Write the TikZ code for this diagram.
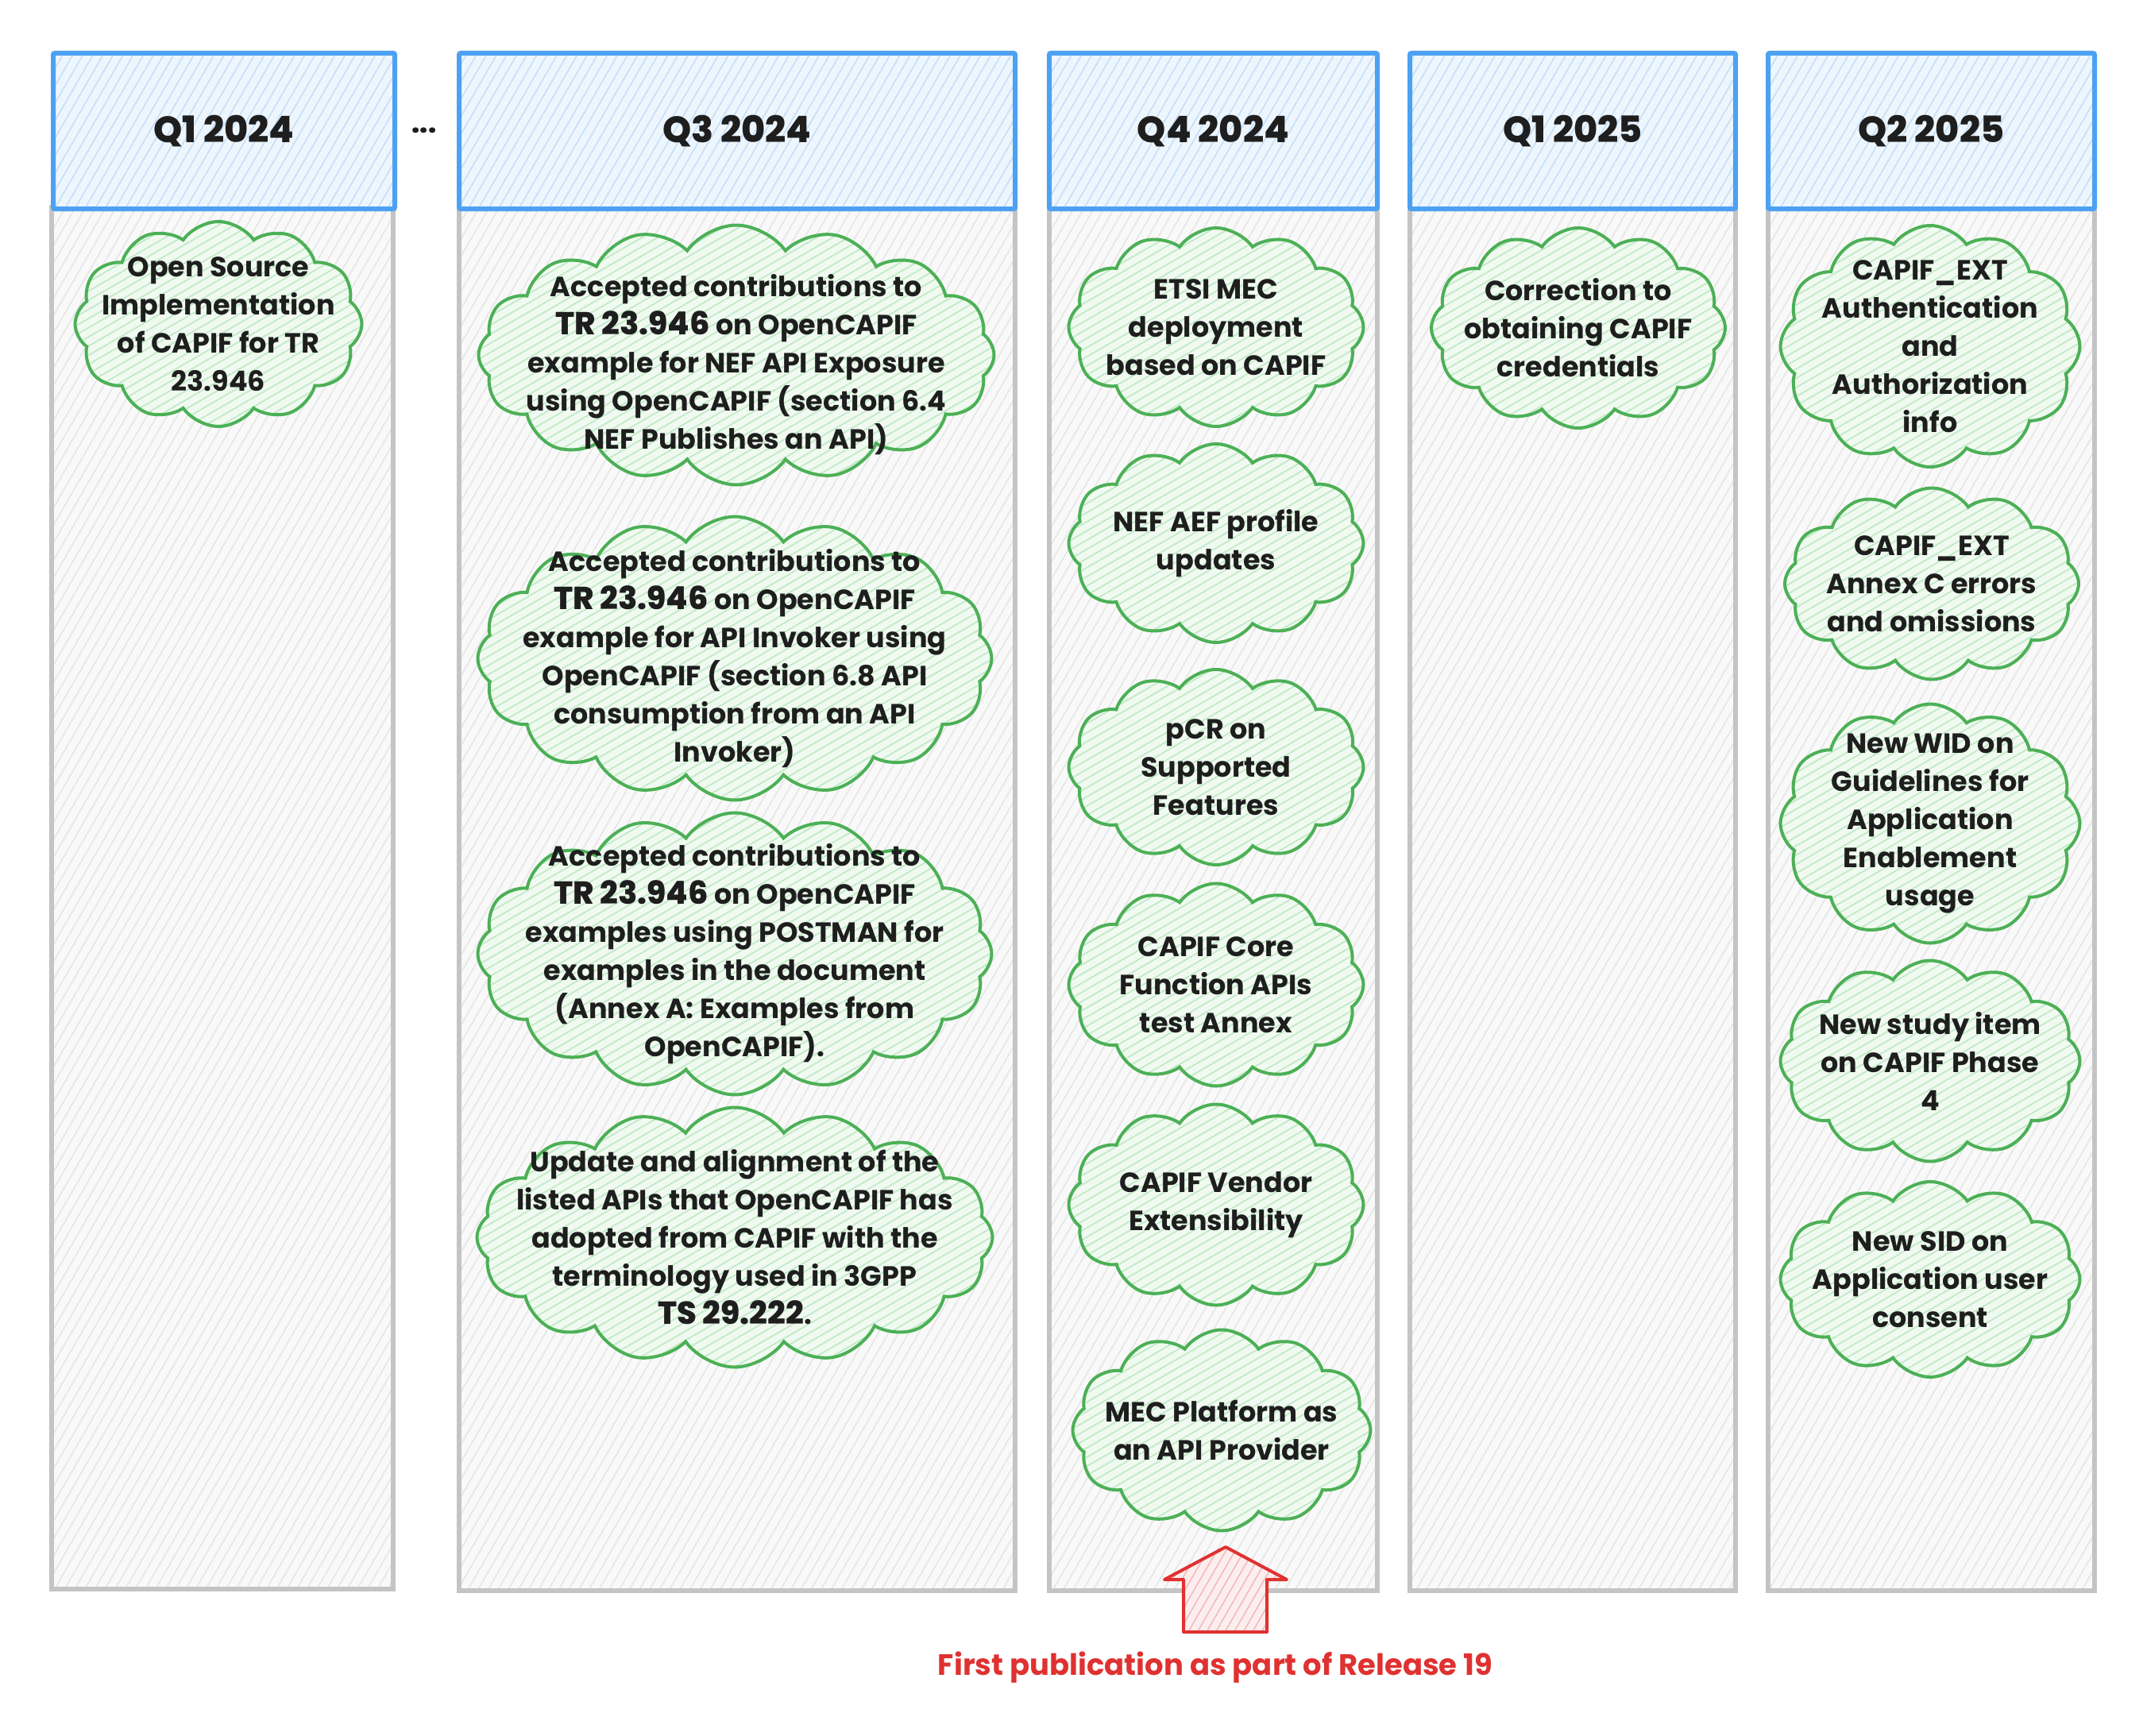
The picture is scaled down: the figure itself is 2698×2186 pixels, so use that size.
\documentclass[tikz,border=0pt]{standalone}
\usepackage{fontspec}
\setmainfont{Poppins}[UprightFont=* Bold, BoldFont=* ExtraBold]
\usetikzlibrary{shapes.symbols,patterns.meta,positioning}

\definecolor{ink}{RGB}{30,30,30}
\definecolor{headblue}{RGB}{77,161,242}
\definecolor{headfill}{RGB}{238,246,253}
\definecolor{headhatch}{RGB}{196,223,250}
\definecolor{lanegray}{RGB}{196,196,196}
\definecolor{lanefill}{RGB}{249,249,249}
\definecolor{lanehatch}{RGB}{230,230,230}
\definecolor{puffgreen}{RGB}{76,176,86}
\definecolor{pufffill}{RGB}{240,250,240}
\definecolor{puffhatch}{RGB}{190,232,196}
\definecolor{relred}{RGB}{224,49,49}
\definecolor{relfill}{RGB}{252,238,238}
\definecolor{relhatch}{RGB}{245,186,186}

\newcommand{\docref}[1]{{\bfseries\fontsize{40}{48}\selectfont #1}}

\begin{document}
\begin{tikzpicture}[x=1pt,y=-1pt,
    lane/.style={draw=lanegray, line width=6pt, preaction={fill=lanefill},
      pattern={Lines[angle=60,distance=11pt,line width=1.6pt]}, pattern color=lanehatch},
    quarter/.style={draw=headblue, line width=6pt, rounded corners=2pt, preaction={fill=headfill},
      pattern={Lines[angle=60,distance=11pt,line width=1.6pt]}, pattern color=headhatch,
      font=\fontsize{46}{50}\bfseries, text=ink},
    puff/.style={cloud, cloud puffs=12, cloud puff arc=110, cloud ignores aspect, inner sep=0pt,
      draw=puffgreen, line width=4pt, preaction={fill=pufffill},
      pattern={Lines[angle=30,distance=10pt,line width=1.6pt]}, pattern color=puffhatch},
    note/.style={align=center, font=\fontsize{35}{48}\selectfont, text=ink}]
\useasboundingbox (0,0) rectangle (2698,2186);
% lanes with quarter headers
\foreach \n/\xa/\xb/\lbl in {qa/64/494/Q1 2024, qc/575/1275/Q3 2024, qd/1318/1731/Q4 2024,
    qe/1772/2182/Q1 2025, qf/2223/2634/Q2 2025}{
  \node[lane, minimum width=\xb-\xa, minimum height=1740, anchor=north west] (\n-lane) at (\xa,260) {};
  \node[quarter, minimum width=\xb-\xa, minimum height=196, anchor=north west] (\n) at (\xa,64) {\lbl};
}
\node[font=\fontsize{34}{40}\bfseries, text=ink] (skip) at (534,164) {...};

% Q1 2024
\node[puff, minimum width=361, minimum height=258] (qa1) at (275,408) {};
\node[note] (qa1-t) at (qa1) {Open Source\\Implementation\\of CAPIF for TR\\23.946};

% Q3 2024
\node[puff, cloud puffs=16, minimum width=649, minimum height=327] (qc1) at (927,447) {};
\node[note] (qc1-t) at ([yshift=-12pt]qc1) {Accepted contributions to\\\docref{TR 23.946} on OpenCAPIF\\example for NEF API Exposure\\using OpenCAPIF (section 6.4\\NEF Publishes an API)};
\node[puff, cloud puffs=16, minimum width=647, minimum height=357] (qc2) at (925,829) {};
\node[note] (qc2-t) at (qc2) {Accepted contributions to\\\docref{TR 23.946} on OpenCAPIF\\example for API Invoker using\\OpenCAPIF (section 6.8 API\\consumption from an API\\Invoker)};
\node[puff, cloud puffs=16, minimum width=647, minimum height=355] (qc3) at (925,1201) {};
\node[note] (qc3-t) at (qc3) {Accepted contributions to\\\docref{TR 23.946} on OpenCAPIF\\examples using POSTMAN for\\examples in the document\\(Annex A: Examples from\\OpenCAPIF).};
\node[puff, cloud puffs=16, minimum width=649, minimum height=327] (qc4) at (925,1558) {};
\node[note] (qc4-t) at (qc4) {Update and alignment of the\\listed APIs that OpenCAPIF has\\adopted from CAPIF with the\\terminology used in 3GPP\\\docref{TS 29.222}.};

% Q4 2024
\node[puff, minimum width=371, minimum height=250] (qd1) at (1531,412) {};
\node[note] (qd1-t) at (qd1) {ETSI MEC\\deployment\\based on CAPIF};
\node[puff, minimum width=371, minimum height=250] (qd2) at (1531,684) {};
\node[note] (qd2-t) at (qd2) {NEF AEF profile\\updates};
\node[puff, minimum width=371, minimum height=246] (qd3) at (1531,966) {};
\node[note] (qd3-t) at (qd3) {pCR on\\Supported\\Features};
\node[puff, minimum width=371, minimum height=255] (qd4) at (1531,1240) {};
\node[note] (qd4-t) at (qd4) {CAPIF Core\\Function APIs\\test Annex};
\node[puff, minimum width=371, minimum height=253] (qd5) at (1531,1517) {};
\node[note] (qd5-t) at (qd5) {CAPIF Vendor\\Extensibility};
\node[puff, minimum width=375, minimum height=253] (qd6) at (1538,1801) {};
\node[note] (qd6-t) at (qd6) {MEC Platform as\\an API Provider};

% Q1 2025
\node[puff, minimum width=370, minimum height=252] (qe1) at (1987,413) {};
\node[note] (qe1-t) at (qe1) {Correction to\\obtaining CAPIF\\credentials};

% Q2 2025
\node[puff, minimum width=377, minimum height=304] (qf1) at (2430,436) {};
\node[note] (qf1-t) at (qf1) {CAPIF\_EXT\\Authentication\\and\\Authorization\\info};
\node[puff, minimum width=370, minimum height=241] (qf2) at (2432,735) {};
\node[note] (qf2-t) at (qf2) {CAPIF\_EXT\\Annex C errors\\and omissions};
\node[puff, minimum width=377, minimum height=301] (qf3) at (2430,1037) {};
\node[note] (qf3-t) at (qf3) {New WID on\\Guidelines for\\Application\\Enablement\\usage};
\node[puff, minimum width=377, minimum height=253] (qf4) at (2430,1336) {};
\node[note] (qf4-t) at (qf4) {New study item\\on CAPIF Phase\\4};
\node[puff, minimum width=377, minimum height=246] (qf5) at (2430,1611) {};
\node[note] (qf5-t) at (qf5) {New SID on\\Application user\\consent};

% release marker
\filldraw[draw=relred, line width=4pt, line join=round, preaction={fill=relfill},
    pattern={Lines[angle=60,distance=10pt,line width=1.6pt]}, pattern color=relhatch]
  (1543,1948) -- (1620,1989) -- (1595,1989) -- (1595,2055) -- (1490,2055)
  -- (1490,1989) -- (1466,1989) -- cycle;
\node[note, font=\fontsize{37}{48}\selectfont, text=relred] (rel) at (1530,2100) {First publication as part of Release 19};
\end{tikzpicture}
\end{document}
